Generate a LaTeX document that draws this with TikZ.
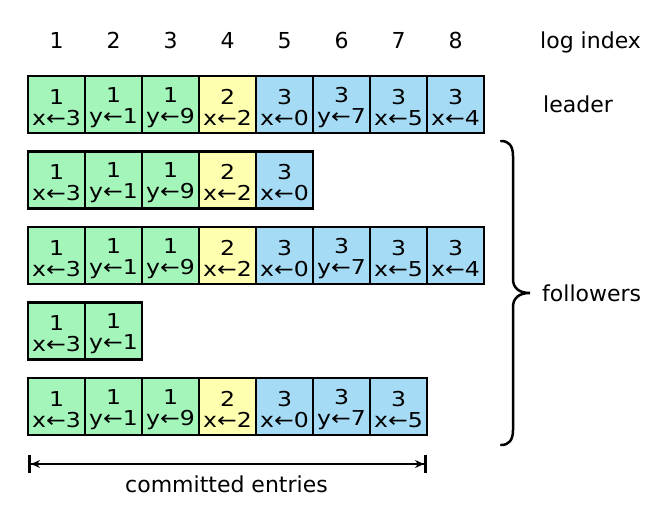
\documentclass[tikz,border=0pt]{standalone}
\usepackage{fontspec}
\setmainfont{DejaVu Sans}
\newfontfamily\cellfamily[FakeStretch=1.15]{DejaVu Sans}
\usetikzlibrary{arrows.meta}
\definecolor{cgreen}{RGB}{163,245,185}
\definecolor{cyellow}{RGB}{255,255,176}
\definecolor{cblue}{RGB}{166,219,245}
\newcommand{\cellfont}{\cellfamily\fontsize{20.5}{21}\selectfont}
\newcommand{\lblfont}{\fontsize{22}{26}\selectfont}
\newcommand{\cellstrut}{\rule{0pt}{21pt}}
\begin{document}
\begin{tikzpicture}[x=1pt,y=-1pt,
  cell/.style={draw=black, line width=2.6pt, minimum width=57pt, minimum height=57pt, inner sep=0pt, align=center, font=\cellfont},
  termone/.style={cell, fill=cgreen},
  termtwo/.style={cell, fill=cyellow},
  termthree/.style={cell, fill=cblue},
  lbl/.style={inner sep=0pt, font=\lblfont},
  brace/.style={draw=black, line width=2.5pt, line cap=round},
  span/.style={draw=black, line width=1.3pt,
    {Bar[width=18pt,line width=3pt]Stealth[length=9pt,width=8pt]}-{Stealth[length=9pt,width=8pt]Bar[width=18pt,line width=3pt]}}]
\useasboundingbox (0,0) rectangle (656,510);
% header
\foreach \c in {1,...,8} {
  \node[lbl, anchor=base] (h\c) at ({56.5+57*(\c-1)},49) {\c};
}
\node[lbl, anchor=base west] (logidx) at (540,49) {log index};
% cells
\foreach \r/\yy/\n in {1/104.5/8, 2/180/5, 3/255.5/8, 4/331/2, 5/406.5/7} {
  \foreach \c/\s/\t/\a in {1/termone/1/x←3, 2/termone/1/y←1, 3/termone/1/y←9, 4/termtwo/2/x←2, 5/termthree/3/x←0, 6/termthree/3/y←7, 7/termthree/3/x←5, 8/termthree/3/x←4} {
    \ifnum\c>\n\relax\else
      \node[\s] (r\r c\c) at ({56.5+57*(\c-1)},\yy) {\cellstrut\t\\\a};
    \fi
  }
}
\node[lbl, anchor=base west] (leader) at (543,113) {leader};
% brace
\draw[brace] (501,141) .. controls (509,141) and (513,146) .. (513,156)
  -- (513,279)
  .. controls (513,288) and (519,293) .. (530,293)
  .. controls (519,293) and (513,298) .. (513,307)
  -- (513,430)
  .. controls (513,440) and (509,445) .. (501,445);
\node[lbl, anchor=base west] (followers) at (542,302) {followers};
% committed
\coordinate (cl) at (28,464);
\coordinate (cr) at (427,464);
\draw[span] (cl) -- (cr);
\node[lbl, anchor=base] (committed) at (226.5,492.5) {committed entries};
\end{tikzpicture}
\end{document}
